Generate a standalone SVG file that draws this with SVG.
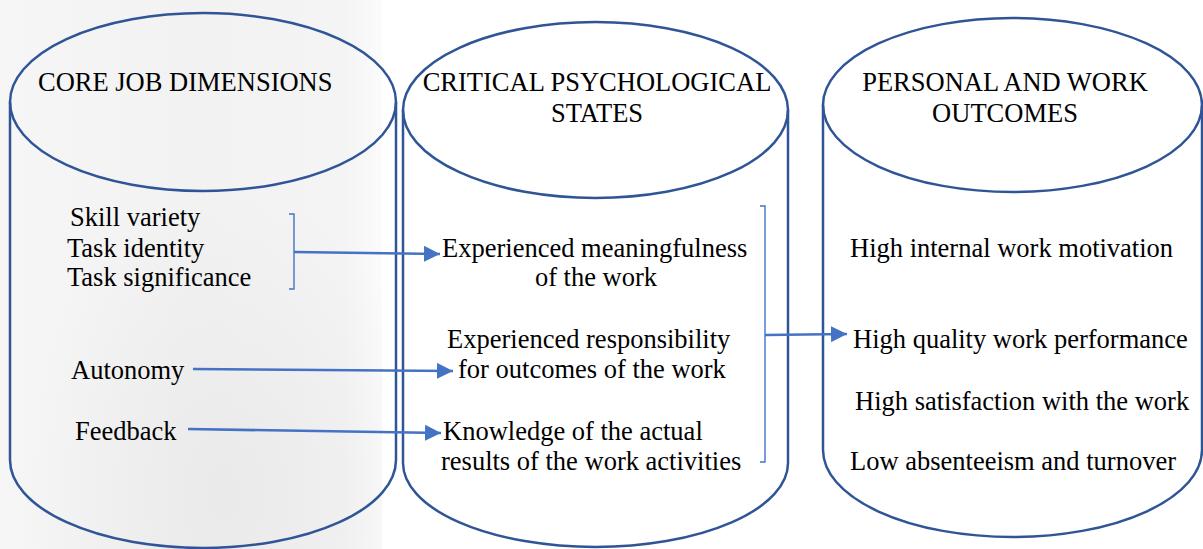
<svg xmlns="http://www.w3.org/2000/svg" width="1203" height="549" viewBox="0 0 1203 549">
  <style>
    .cyl { fill: none; stroke: #2f5597; stroke-width: 2.5; }
    .lbl { font-size: 26.5px; fill: #000; }
    .mid { text-anchor: middle; }
    .bracket { fill: none; stroke: #4472c4; stroke-width: 1.4; }
    .arrow { fill: none; stroke: #4472c4; stroke-width: 2.6; marker-end: url(#head); }
  </style>
  <defs>
    <marker id="head" markerUnits="userSpaceOnUse" markerWidth="18" markerHeight="16" refX="16" refY="8" orient="auto">
      <path d="M0,0 L16,8 L0,16 Z" fill="#4472c4"/>
    </marker>
    <linearGradient id="shade" x1="0" y1="0" x2="1" y2="0">
      <stop offset="0" stop-color="#f6f6f6"/>
      <stop offset="0.5" stop-color="#f2f2f2"/>
      <stop offset="0.9" stop-color="#f4f4f4"/>
      <stop offset="1" stop-color="#fbfbfb"/>
    </linearGradient>
    <radialGradient id="blot" cx="0.6" cy="0.9" r="0.55">
      <stop offset="0" stop-color="#e6e6e6" stop-opacity="0.7"/>
      <stop offset="1" stop-color="#e6e6e6" stop-opacity="0"/>
    </radialGradient>
  </defs>

  <!-- page and faded backdrop on the left -->
  <rect width="1203" height="549" fill="#ffffff"/>
  <rect x="0" y="0" width="382" height="549" fill="url(#shade)"/>
  <rect x="0" y="0" width="382" height="549" fill="url(#blot)"/>

  <g font-family="Liberation Serif, Times New Roman, serif">
    <!-- column 1 -->
    <g id="core-job-dimensions">
      <ellipse class="cyl" cx="203" cy="102" rx="193" ry="89"/>
      <path class="cyl" d="M10,102 L10,460 A193,88 0 0 0 396,460 L396,102"/>
      <text class="lbl" x="38" y="91">CORE JOB DIMENSIONS</text>
      <text class="lbl" x="70" y="226">Skill variety</text>
      <text class="lbl" x="67" y="257">Task identity</text>
      <text class="lbl" x="67" y="286">Task significance</text>
      <text class="lbl" x="71" y="379">Autonomy</text>
      <text class="lbl" x="75" y="440">Feedback</text>
    </g>

    <!-- column 2 -->
    <g id="critical-psychological-states">
      <ellipse class="cyl" cx="595.5" cy="110" rx="192.5" ry="88"/>
      <path class="cyl" d="M403,110 L403,463 A192.5,84 0 0 0 788,463 L788,110"/>
      <text class="lbl mid" x="597" y="91">CRITICAL PSYCHOLOGICAL</text>
      <text class="lbl mid" x="597" y="122">STATES</text>
      <text class="lbl" x="442" y="257">Experienced meaningfulness</text>
      <text class="lbl mid" x="596" y="286">of the work</text>
      <text class="lbl" x="447" y="348">Experienced responsibility</text>
      <text class="lbl" x="458" y="378">for outcomes of the work</text>
      <text class="lbl" x="443" y="440">Knowledge of the actual</text>
      <text class="lbl" x="441" y="470">results of the work activities</text>
    </g>

    <!-- column 3 -->
    <g id="personal-and-work-outcomes">
      <ellipse class="cyl" cx="1012.5" cy="105" rx="189.5" ry="87"/>
      <path class="cyl" d="M823,105 L823,450 A189.5,87 0 0 0 1202,450 L1202,105"/>
      <text class="lbl mid" x="1005" y="91">PERSONAL AND WORK</text>
      <text class="lbl mid" x="1005" y="122">OUTCOMES</text>
      <text class="lbl" x="850" y="257">High internal work motivation</text>
      <text class="lbl" x="853" y="348">High quality work performance</text>
      <text class="lbl" x="855" y="410">High satisfaction with the work</text>
      <text class="lbl" x="850" y="470">Low absenteeism and turnover</text>
    </g>
  </g>

  <!-- connectors -->
  <g id="connectors">
    <path class="bracket" d="M289,214 L294,214 L294,289 L289,289"/>
    <path class="arrow" d="M294,252 L440,254"/>
    <path class="arrow" d="M193,369 L453,371"/>
    <path class="arrow" d="M188,429 L441,433"/>
    <path class="bracket" d="M760,206 L765,206 L765,462 L760,462"/>
    <path class="arrow" d="M765,335 L847,334"/>
  </g>
</svg>
